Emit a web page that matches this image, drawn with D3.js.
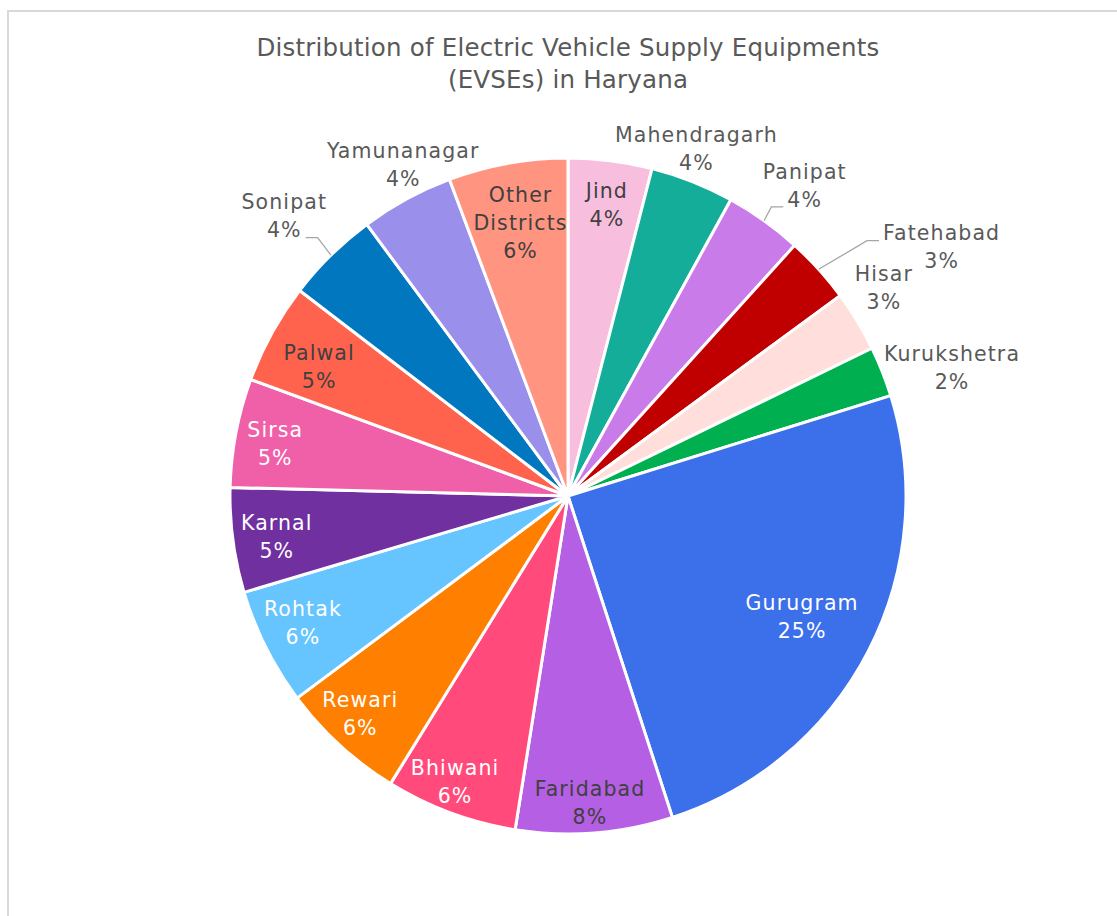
<!DOCTYPE html>
<html>
<head>
<meta charset="utf-8">
<script src="https://cdn.jsdelivr.net/npm/d3@7"></script>
<style>
  html, body { margin: 0; padding: 0; background: #fff; }
  svg { display: block; }
</style>
</head>
<body>
<svg id="chart" width="1117" height="916"></svg>
<script>
// ---- data ----
const titleLines = ["Distribution of Electric Vehicle Supply Equipments", "(EVSEs) in Haryana"];
const categories = ["Jind", "Mahendragarh", "Panipat", "Fatehabad", "Hisar", "Kurukshetra",
  "Gurugram", "Faridabad", "Bhiwani", "Rewari", "Rohtak", "Karnal", "Sirsa", "Palwal",
  "Sonipat", "Yamunanagar", "Other Districts"];
const values = [4.0, 4.0, 3.7, 3.2, 2.9, 2.4, 24.8, 7.5, 6.3, 6.0, 5.6, 5.0, 5.2, 4.8, 4.45, 4.45, 5.7];
const colors = ["#F7BEDD", "#13AD9A", "#C87BE9", "#C00000", "#FFDEDB", "#00B050",
  "#3C6FEA", "#B45FE4", "#FF4A7B", "#FF8000", "#66C5FF", "#7030A0", "#EF60A8", "#FF634D",
  "#0077BE", "#9A8FEA", "#FF9580"];

// ---- label layout (presentation only) ----
const labelLayout = {
  "Jind": { rf: 0.87, dA: 0.4, fill: "#404040" },
  "Mahendragarh": { rf: 1.095, dA: -1.3, fill: "#595959" },
  "Panipat": { rf: 1.154, dA: 1.9, fill: "#595959", leader: { side: "left", line: 1, dy: 7 } },
  "Fatehabad": { rf: 1.329, dA: 8.4, fill: "#595959", leader: { side: "left", line: 0, dy: 8 } },
  "Hisar": { rf: 1.12, dA: -2.3, fill: "#595959" },
  "Kurukshetra": { rf: 1.198, dA: 3.1, fill: "#595959" },
  "Gurugram": { rf: 0.78, dA: 0, fill: "#ffffff" },
  "Faridabad": { rf: 0.91, dA: 0.4, fill: "#404040" },
  "Bhiwani": { rf: 0.91, dA: 1.2, fill: "#ffffff" },
  "Rewari": { rf: 0.89, dA: 1.2, fill: "#ffffff" },
  "Rohtak": { rf: 0.87, dA: 1.0, fill: "#ffffff" },
  "Karnal": { rf: 0.87, dA: -0.4, fill: "#ffffff" },
  "Sirsa": { rf: 0.88, dA: -0.6, fill: "#ffffff" },
  "Palwal": { rf: 0.83, dA: -1.3, fill: "#404040" },
  "Sonipat": { rf: 1.18, dA: -0.8, fill: "#595959", leader: { side: "right", line: 1, dy: 8 } },
  "Yamunanagar": { rf: 1.095, dA: 2.1, fill: "#595959" },
  "Other Districts": { rf: 0.82, dA: 0.4, fill: "#404040", lines: ["Other", "Districts"] }
};

const W = 1117, H = 916;
const cx = 568, cy = 496, R = 338;
const FONT = "'DejaVu Sans', sans-serif";

const svg = d3.select("#chart");

// chart frame
svg.append("rect")
  .attr("x", 8).attr("y", 11)
  .attr("width", 1300).attr("height", 1200)
  .attr("fill", "#fff")
  .attr("stroke", "#D9D9D9").attr("stroke-width", 2);

// title
const title = svg.append("text")
  .attr("text-anchor", "middle")
  .attr("font-family", FONT)
  .attr("font-size", 24.5)
  .attr("letter-spacing", 0.2)
  .attr("fill", "#595959");
titleLines.forEach((t, i) => {
  title.append("tspan").attr("x", cx).attr("y", 47 + i * 32).attr("dy", "0.35em").text(t);
});

const total = d3.sum(values);
const data = categories.map((c, i) => ({ name: c, value: values[i], color: colors[i] }));
const pie = d3.pie().value(d => d.value).sort(null).startAngle(0).endAngle(2 * Math.PI);
const arcs = pie(data);
const arc = d3.arc().innerRadius(0).outerRadius(R);
const pct = d3.format(".0%");

const g = svg.append("g").attr("transform", `translate(${cx},${cy})`);

g.selectAll("path.slice")
  .data(arcs)
  .join("path")
  .attr("class", "slice")
  .attr("d", arc)
  .attr("fill", d => d.data.color)
  .attr("stroke", "#ffffff")
  .attr("stroke-width", 3)
  .attr("stroke-linejoin", "round");

const LH = 28;
const FS = 20.5;
const LS = 1.1;

arcs.forEach(a => {
  const lay = labelLayout[a.data.name];
  const mid = (a.startAngle + a.endAngle) / 2;
  const ang = mid + lay.dA * Math.PI / 180;
  const lx = Math.sin(ang) * R * lay.rf;
  const ly = -Math.cos(ang) * R * lay.rf;
  const lines = (lay.lines || [a.data.name]).concat([pct(a.data.value / total)]);
  const top = ly - (lines.length - 1) * LH / 2;
  const t = g.append("text")
    .attr("text-anchor", "middle")
    .attr("font-family", FONT)
    .attr("font-size", FS)
    .attr("letter-spacing", LS)
    .attr("fill", lay.fill);
  const spans = lines.map((s, i) =>
    t.append("tspan").attr("x", lx).attr("y", top + i * LH).attr("dy", "0.35em").text(s));

  if (lay.leader) {
    const L = lay.leader;
    const w = spans[L.line].node().getComputedTextLength();
    const ey = top + L.line * LH + L.dy;
    const ex = L.side === "left" ? lx - w / 2 - 4 : lx + w / 2 + 4;
    const elx = L.side === "left" ? ex - 12 : ex + 12;
    const sx = Math.sin(mid) * R, sy = -Math.cos(mid) * R;
    g.append("path")
      .attr("d", d3.line()([[sx, sy], [elx, ey], [ex, ey]]))
      .attr("fill", "none")
      .attr("stroke", "#A6A6A6")
      .attr("stroke-width", 1.3);
  }
});
</script>
</body>
</html>
